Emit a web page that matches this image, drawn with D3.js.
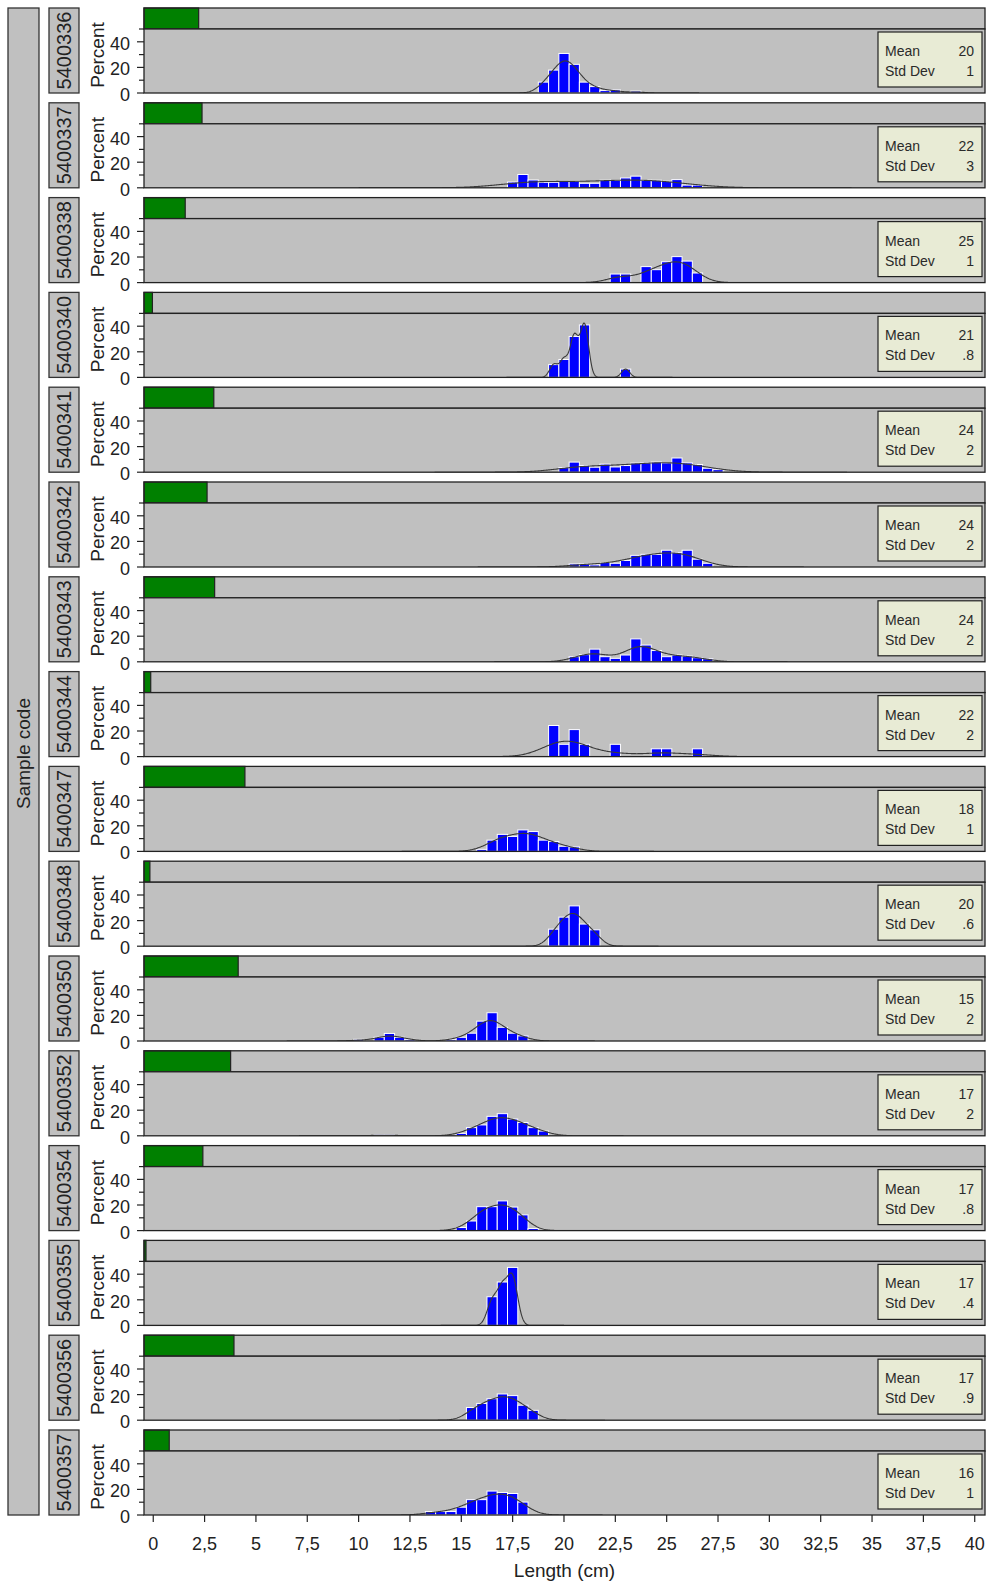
<!DOCTYPE html>
<html>
<head>
<meta charset="utf-8">
<script src="https://cdn.jsdelivr.net/npm/d3@7/dist/d3.min.js"></script>
<style>
  html, body { margin: 0; padding: 0; background: #ffffff; }
  svg { display: block; font-family: "Liberation Sans", Arial, Helvetica, sans-serif; }
</style>
</head>
<body>
<svg id="chart" width="992" height="1582"></svg>
<script>
// Length-frequency distributions by sample: percent of fish per 0.5 cm length class.
const sampleCodes = ["5400336", "5400337", "5400338", "5400340", "5400341", "5400342", "5400343", "5400344",
                     "5400347", "5400348", "5400350", "5400352", "5400354", "5400355", "5400356", "5400357"];

// Share of all measured fish in each sample (percent), shown as the green bar in the strip.
const sampleShare = [6.5, 6.9, 4.9, 1.0, 8.3, 7.5, 8.4, 0.8, 12.0, 0.7, 11.2, 10.3, 7.0, 0.24, 10.7, 3.0];

const meanLabels = ["20", "22", "25", "21", "24", "24", "24", "22", "18", "20", "15", "17", "17", "17", "17", "16"];
const sdLabels   = ["1", "3", "1", ".8", "2", "2", "2", "2", "1", ".6", "2", "2", ".8", ".4", ".9", "1"];

// Kernel bandwidth (cm) of the density curve for each sample.
const kernelBandwidth = [0.4, 1.5, 0.6, 0.2, 1.2, 0.8, 0.6, 0.9, 0.6, 0.4, 0.5, 0.6, 0.5, 0.25, 0.5, 0.6];

// [length class midpoint (cm), percent]
const lf5400336 = [[19.0, 8.5], [19.5, 17.9], [20.0, 30.9], [20.5, 22.4], [21.0, 8.5], [21.5, 5.0], [22.0, 1.9], [22.5, 2.4], [23.5, 1.5]];
const lf5400337 = [[17.5, 4.5], [18.0, 10.4], [18.5, 6.1], [19.0, 4.3], [19.5, 4.3], [20.0, 5.3], [20.5, 5.3], [21.0, 3.5], [21.5, 3.5],
                   [22.0, 5.9], [22.5, 5.9], [23.0, 7.7], [23.5, 9.1], [24.0, 5.9], [24.5, 5.9], [25.0, 5.1], [25.5, 6.4], [26.0, 2.1], [26.5, 2.1]];
const lf5400338 = [[22.5, 6.7], [23.0, 6.7], [24.0, 12.5], [24.5, 10.1], [25.0, 16.3], [25.5, 20.3], [26.0, 16.8], [26.5, 7.5]];
const lf5400340 = [[19.5, 10.0], [20.0, 14.0], [20.5, 32.0], [21.0, 41.0], [23.0, 6.5]];
const lf5400341 = [[20.0, 3.6], [20.5, 7.9], [21.0, 5.2], [21.5, 3.9], [22.0, 6.3], [22.5, 4.1], [23.0, 5.2], [23.5, 7.1],
                   [24.0, 7.3], [24.5, 7.9], [25.0, 7.3], [25.5, 11.1], [26.0, 7.3], [26.5, 6.0], [27.0, 3.1], [27.5, 2.0]];
const lf5400342 = [[20.5, 2.4], [21.0, 2.4], [21.5, 1.6], [22.0, 3.5], [22.5, 2.9], [23.0, 5.1], [23.5, 9.1], [24.0, 9.9],
                   [24.5, 9.9], [25.0, 13.1], [25.5, 11.2], [26.0, 13.1], [26.5, 6.1], [27.0, 2.9]];
const lf5400343 = [[20.5, 4.0], [21.0, 5.6], [21.5, 9.9], [22.0, 4.0], [22.5, 2.7], [23.0, 5.3], [23.5, 17.9], [24.0, 13.1],
                   [24.5, 8.8], [25.0, 4.0], [25.5, 5.3], [26.0, 4.5], [26.5, 3.2], [27.0, 2.4]];
const lf5400344 = [[19.5, 24.3], [20.0, 9.6], [20.5, 21.1], [21.0, 9.6], [22.5, 9.6], [24.5, 6.1], [25.0, 6.1], [26.5, 6.1]];
const lf5400347 = [[16.0, 1.6], [16.5, 8.8], [17.0, 13.3], [17.5, 11.7], [18.0, 16.8], [18.5, 15.5], [19.0, 8.8], [19.5, 7.7], [20.0, 4.0], [20.5, 3.5]];
const lf5400348 = [[19.5, 13.3], [20.0, 22.7], [20.5, 31.5], [21.0, 17.3], [21.5, 12.8]];
const lf5400350 = [[10.0, 1.3], [11.0, 2.9], [11.5, 5.9], [12.0, 2.9], [12.5, 1.3], [14.5, 1.3], [15.0, 2.9], [15.5, 6.1],
                   [16.0, 15.5], [16.5, 22.1], [17.0, 10.7], [17.5, 6.1], [18.0, 4.0]];
const lf5400352 = [[11.0, 0.8], [11.5, 0.8], [15.0, 1.9], [15.5, 6.4], [16.0, 8.5], [16.5, 15.2], [17.0, 17.3], [17.5, 13.1],
                   [18.0, 10.4], [18.5, 6.4], [19.0, 3.7]];
const lf5400354 = [[15.0, 2.4], [15.5, 7.5], [16.0, 18.7], [16.5, 18.7], [17.0, 23.2], [17.5, 18.4], [18.0, 12.3], [18.5, 1.6]];
const lf5400355 = [[16.5, 22.4], [17.0, 33.9], [17.5, 45.3]];
const lf5400356 = [[15.5, 9.9], [16.0, 13.1], [16.5, 16.8], [17.0, 20.5], [17.5, 19.2], [18.0, 11.7], [18.5, 7.7]];
const lf5400357 = [[13.5, 2.7], [14.0, 2.7], [14.5, 2.7], [15.0, 6.1], [15.5, 12.0], [16.0, 12.0], [16.5, 18.7], [17.0, 17.6],
                   [17.5, 16.8], [18.0, 10.1]];

const lengthFreq = [lf5400336, lf5400337, lf5400338, lf5400340, lf5400341, lf5400342, lf5400343, lf5400344,
                    lf5400347, lf5400348, lf5400350, lf5400352, lf5400354, lf5400355, lf5400356, lf5400357];

const xTickValues = [0, 2.5, 5, 7.5, 10, 12.5, 15, 17.5, 20, 22.5, 25, 27.5, 30, 32.5, 35, 37.5, 40];
const yTickValues = [0, 20, 40];
const yMinorTicks = [10, 30, 50];
const classWidth = 0.5;

// ---- layout ----
const plotLeft = 144, plotRight = 985;
const firstTop = 8, panelStep = 94.8, stripH = 21, plotH = 64;
const ink = "#222222";
const panelFill = "#c0c0c0";

const svg = d3.select("#chart");

const x = d3.scaleLinear().domain([-0.45, 40.5]).range([plotLeft, plotRight]);
const y = d3.scaleLinear().domain([0, 50]).range([plotH, 0]);
const share = d3.scaleLinear().domain([0, 100]).range([0, plotRight - plotLeft]);

const nPanels = sampleCodes.length;
const lastBottom = firstTop + (nPanels - 1) * panelStep + stripH + plotH;

// Outer "Sample code" strip
svg.append("rect")
  .attr("x", 8).attr("y", firstTop).attr("width", 31).attr("height", lastBottom - firstTop)
  .attr("fill", panelFill).attr("stroke", "#333").attr("stroke-width", 1.3);
svg.append("text")
  .attr("transform", `translate(30,${(firstTop + lastBottom) / 2 - 8}) rotate(-90)`)
  .attr("text-anchor", "middle")
  .attr("font-size", 19).attr("fill", ink)
  .text("Sample code");

const gaussian = u => Math.exp(-0.5 * u * u) / Math.sqrt(2 * Math.PI);

svg.append("defs").selectAll("clipPath")
  .data(sampleCodes).join("clipPath")
  .attr("id", (d, i) => "clip" + i)
  .append("rect")
  .attr("x", plotLeft).attr("y", 0).attr("width", plotRight - plotLeft).attr("height", plotH);

sampleCodes.forEach((code, i) => {
  const top = firstTop + i * panelStep;
  const g = svg.append("g").attr("transform", `translate(0,${top})`);

  // sample label box
  g.append("rect")
    .attr("x", 49).attr("y", 0).attr("width", 30).attr("height", stripH + plotH)
    .attr("fill", panelFill).attr("stroke", "#333").attr("stroke-width", 1.3);
  g.append("text")
    .attr("transform", `translate(71,${(stripH + plotH) / 2}) rotate(-90)`)
    .attr("text-anchor", "middle")
    .attr("font-size", 20).attr("fill", ink)
    .text(code);

  // strip with share bar
  g.append("rect")
    .attr("x", plotLeft).attr("y", 0).attr("width", plotRight - plotLeft).attr("height", stripH)
    .attr("fill", panelFill);
  g.append("rect")
    .attr("x", plotLeft).attr("y", 0).attr("width", share(sampleShare[i])).attr("height", stripH)
    .attr("fill", "#008000").attr("stroke", ink).attr("stroke-width", 1.2);
  g.append("rect")
    .attr("x", plotLeft).attr("y", 0).attr("width", plotRight - plotLeft).attr("height", stripH)
    .attr("fill", "none").attr("stroke", ink).attr("stroke-width", 1.3);

  // plot area
  const p = g.append("g").attr("transform", `translate(0,${stripH})`);
  p.append("rect")
    .attr("x", plotLeft).attr("y", 0).attr("width", plotRight - plotLeft).attr("height", plotH)
    .attr("fill", panelFill);

  const bins = lengthFreq[i];
  p.append("g").selectAll("rect")
    .data(bins).join("rect")
    .attr("x", d => x(d[0] - classWidth / 2))
    .attr("width", d => x(d[0] + classWidth / 2) - x(d[0] - classWidth / 2))
    .attr("y", d => y(d[1]))
    .attr("height", d => y(0) - y(d[1]))
    .attr("fill", "#0000ff")
    .attr("stroke", "#ffffff").attr("stroke-width", 1);

  // kernel density of the length classes, scaled to percent per class
  const h = kernelBandwidth[i];
  const lo = d3.min(bins, d => d[0]) - 4 * h - 1.5;
  const hi = d3.max(bins, d => d[0]) + 4 * h + 1.5;
  const pts = d3.range(lo, hi + 1e-9, 0.04).map(t => [
    t, classWidth * d3.sum(bins, d => d[1] * gaussian((t - d[0]) / h) / h)
  ]);
  p.append("path")
    .datum(pts)
    .attr("clip-path", `url(#clip${i})`)
    .attr("fill", "none")
    .attr("stroke", "#3a3a3a").attr("stroke-width", 1.1)
    .attr("d", d3.line().x(d => x(d[0])).y(d => y(d[1])));

  p.append("rect")
    .attr("x", plotLeft).attr("y", 0).attr("width", plotRight - plotLeft).attr("height", plotH)
    .attr("fill", "none").attr("stroke", ink).attr("stroke-width", 1.3);

  // y axis
  const yAxis = p.append("g").attr("transform", `translate(${plotLeft},0)`);
  yAxis.selectAll("line.major").data(yTickValues).join("line")
    .attr("x1", -7).attr("x2", 0).attr("y1", d => y(d)).attr("y2", d => y(d))
    .attr("stroke", ink).attr("stroke-width", 1.2);
  yAxis.selectAll("line.minor").data(yMinorTicks).join("line")
    .attr("x1", -5).attr("x2", 0).attr("y1", d => y(d)).attr("y2", d => y(d))
    .attr("stroke", ink).attr("stroke-width", 1.2);
  yAxis.selectAll("text").data(yTickValues).join("text")
    .attr("x", -14).attr("y", d => y(d) + 8)
    .attr("text-anchor", "end")
    .attr("font-size", 18).attr("fill", ink)
    .text(d => d);
  p.append("text")
    .attr("transform", `translate(104,${plotH / 2 - 6}) rotate(-90)`)
    .attr("text-anchor", "middle")
    .attr("font-size", 19).attr("fill", ink)
    .text("Percent");

  // statistics inset
  const bx = 878, bw = 104;
  p.append("rect")
    .attr("x", bx).attr("y", 3).attr("width", bw).attr("height", 55)
    .attr("fill", "#e8ebd5").attr("stroke", ink).attr("stroke-width", 1.2);
  p.append("text").attr("x", bx + 7).attr("y", 27).attr("font-size", 14).attr("fill", "#2a2a2a").text("Mean");
  p.append("text").attr("x", bx + 7).attr("y", 47).attr("font-size", 14).attr("fill", "#2a2a2a").text("Std Dev");
  p.append("text").attr("x", bx + bw - 8).attr("y", 27).attr("text-anchor", "end").attr("font-size", 14).attr("fill", "#2a2a2a").text(meanLabels[i]);
  p.append("text").attr("x", bx + bw - 8).attr("y", 47).attr("text-anchor", "end").attr("font-size", 14).attr("fill", "#2a2a2a").text(sdLabels[i]);
});

// x axis under the last panel
const xAxisG = svg.append("g").attr("transform", `translate(0,${lastBottom})`);
xAxisG.selectAll("line").data(xTickValues).join("line")
  .attr("x1", d => x(d)).attr("x2", d => x(d)).attr("y1", 0).attr("y2", 7)
  .attr("stroke", ink).attr("stroke-width", 1.2);
xAxisG.selectAll("text").data(xTickValues).join("text")
  .attr("x", d => x(d)).attr("y", 35)
  .attr("text-anchor", "middle")
  .attr("font-size", 18).attr("fill", ink)
  .text(d => String(d).replace(".", ","));
xAxisG.append("text")
  .attr("x", (plotLeft + plotRight) / 2).attr("y", 62)
  .attr("text-anchor", "middle")
  .attr("font-size", 19).attr("fill", ink)
  .text("Length  (cm)");
</script>
</body>
</html>
